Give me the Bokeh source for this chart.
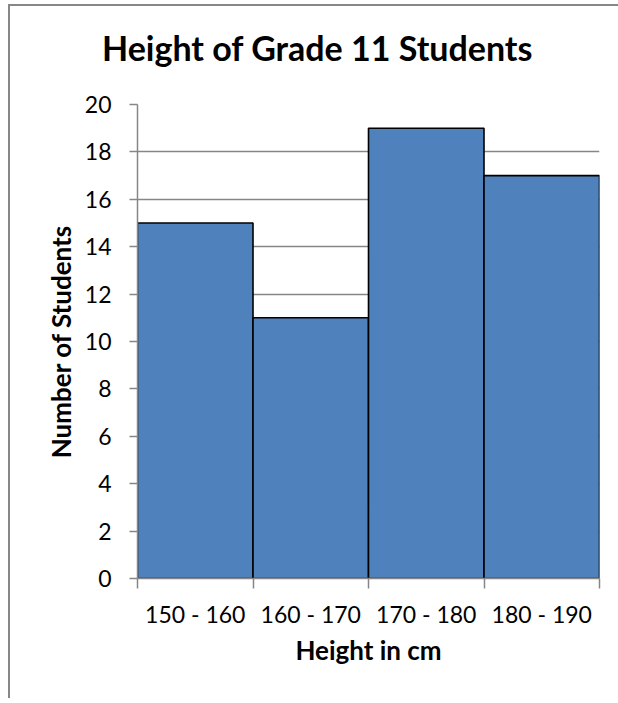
from bokeh.plotting import figure
from bokeh.models import FixedTicker, Range1d, Div
from bokeh.layouts import column
from bokeh.embed import file_html
from bokeh.resources import INLINE

# ---- data ----
categories = ["150 - 160", "160 - 170", "170 - 180", "180 - 190"]
counts = [15, 11, 19, 17]
y_ticks = [0, 2, 4, 6, 8, 10, 12, 14, 16, 18, 20]
title_text = "Height of Grade 11 Students"
x_label = "Height in cm"
y_label = "Number of Students"

FONT = "Lato"
GRAY = "#868686"

n = len(categories)
centers = [i + 0.5 for i in range(n)]
edges = list(range(n + 1))

title_div = Div(
    text=('<div style="padding:16px 0 0 87px; font-family:Lato; font-weight:bold; '
          'font-size:34px; line-height:41px; color:black; white-space:nowrap; margin:0;">'
          + title_text + '</div>'),
    width=598, height=70)

p = figure(width=598, height=612, output_backend="svg", toolbar_location=None,
           x_range=Range1d(0, n), y_range=Range1d(0, 20),
           min_border_left=127, min_border_right=9,
           min_border_top=18, min_border_bottom=120)

p.vbar(x=centers, top=counts, width=1.0, bottom=0,
       fill_color="#4F81BD", line_color="black", line_width=1.6)

# axes
xa = p.xaxis[0]
xa.ticker = FixedTicker(ticks=centers, minor_ticks=edges)
xa.major_label_overrides = {c: lab for c, lab in zip(centers, categories)}
xa.major_tick_out = 0
xa.major_tick_in = 0
xa.minor_tick_out = 10
xa.minor_tick_in = 0
xa.minor_tick_line_color = GRAY
xa.minor_tick_line_width = 1.5
xa.axis_line_color = GRAY
xa.axis_line_width = 1.5
xa.major_label_text_font = FONT
xa.major_label_text_font_size = "23px"
xa.major_label_text_color = "black"
xa.major_label_standoff = 11
xa.axis_label = x_label
xa.axis_label_text_font = FONT
xa.axis_label_text_font_size = "26px"
xa.axis_label_text_font_style = "bold"
xa.axis_label_text_color = "black"
xa.axis_label_standoff = 3

ya = p.yaxis[0]
ya.ticker = FixedTicker(ticks=y_ticks)
ya.major_tick_out = 8
ya.major_tick_in = 0
ya.major_tick_line_color = GRAY
ya.major_tick_line_width = 1.5
ya.minor_tick_line_color = None
ya.axis_line_color = GRAY
ya.axis_line_width = 1.5
ya.major_label_text_font = FONT
ya.major_label_text_font_size = "23px"
ya.major_label_text_color = "black"
ya.major_label_standoff = 18
ya.axis_label = y_label
ya.axis_label_text_font = FONT
ya.axis_label_text_font_size = "26px"
ya.axis_label_text_font_style = "bold"
ya.axis_label_text_color = "black"
ya.axis_label_standoff = 5

p.xgrid.grid_line_color = None
p.ygrid.grid_line_color = GRAY
p.ygrid.grid_line_width = 1.5
p.ygrid.ticker = FixedTicker(ticks=y_ticks)
p.outline_line_color = None

layout = column(title_div, p, spacing=0,
                styles={"border-left": "2px solid #878787", "border-top": "2px solid #878787",
                        "position": "absolute", "left": "8px", "top": "4px"})

open("out.html", "w").write(file_html(layout, INLINE))
